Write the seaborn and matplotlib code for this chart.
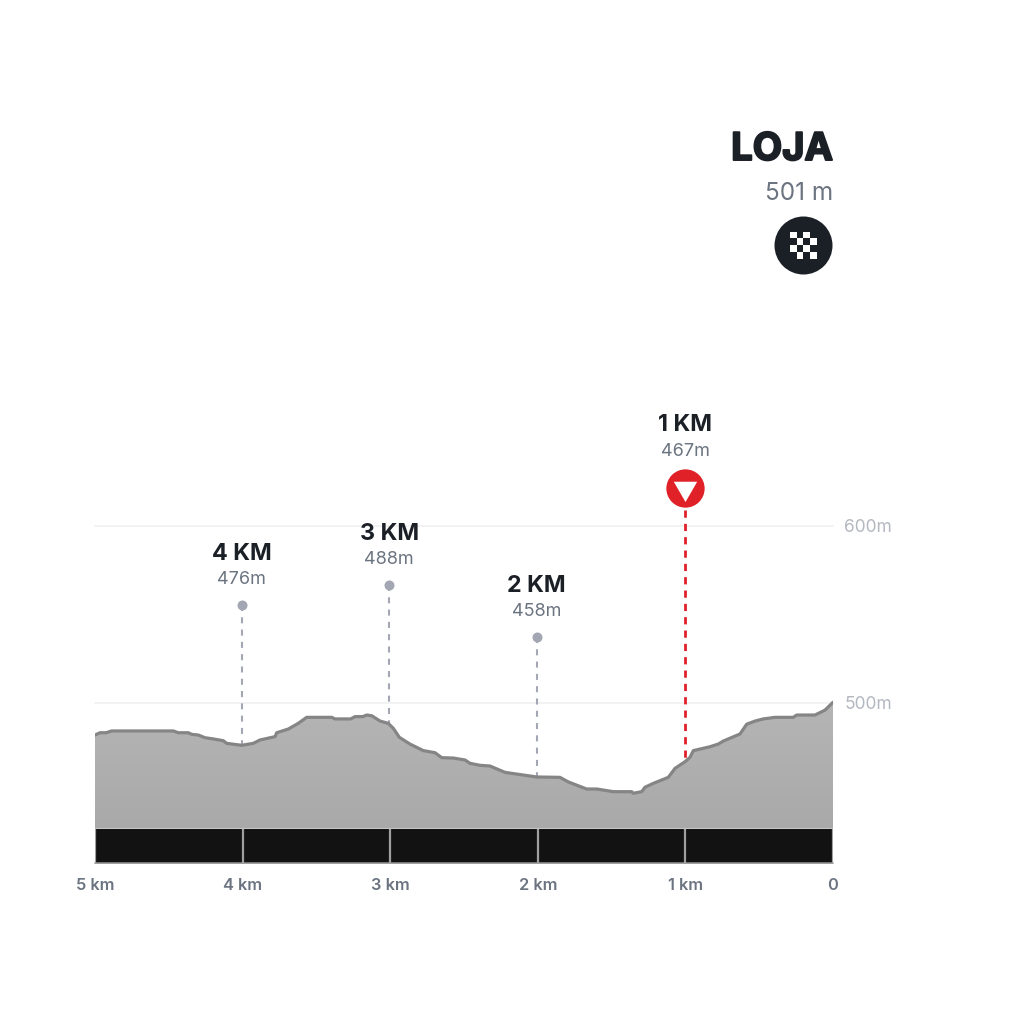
import numpy as np
import pandas as pd
import matplotlib
matplotlib.use("Agg")
import matplotlib.pyplot as plt
import matplotlib.patheffects as pe
import seaborn as sns
from matplotlib.patches import Polygon

# ---- data ----
km_to_go = [5.00, 4.966, 4.925, 4.887, 4.469, 4.436, 4.368, 4.345, 4.30, 4.255, 4.199, 4.131, 4.108,
            4.006, 3.928, 3.882, 3.78, 3.769, 3.69, 3.623, 3.566, 3.396, 3.374, 3.268, 3.238, 3.186,
            3.159, 3.125, 3.069, 3.013, 2.979, 2.938, 2.866, 2.776, 2.696, 2.651, 2.572, 2.493, 2.459,
            2.392, 2.324, 2.222, 2.098, 2.007, 1.85, 1.793, 1.669, 1.60, 1.488, 1.364, 1.353, 1.296,
            1.274, 1.217, 1.116, 1.07, 1.003, 0.969, 0.946, 0.833, 0.777, 0.743, 0.63, 0.585, 0.528,
            0.472, 0.393, 0.269, 0.246, 0.122, 0.054, 0.0]
elevation = [481.9, 483.2, 483.2, 484.2, 484.2, 483.2, 483.2, 482.3, 481.9, 480.4, 479.7, 478.7, 477.2,
             476.1, 477.2, 479.1, 481.0, 483.2, 485.3, 488.5, 491.9, 491.9, 491.0, 491.0, 492.3, 492.3,
             493.2, 492.8, 489.8, 488.5, 485.7, 480.6, 476.8, 473.1, 471.9, 469.1, 468.9, 467.8, 465.9,
             464.8, 464.4, 460.8, 459.3, 458.2, 458.0, 455.4, 451.4, 451.4, 449.9, 449.9, 449.0, 449.9,
             452.4, 454.6, 458.0, 463.1, 466.8, 469.3, 473.1, 475.3, 476.8, 478.5, 482.5, 488.0, 489.8,
             491.0, 491.9, 491.9, 493.2, 493.2, 496.0, 500.4]
x_ticks = [5, 4, 3, 2, 1, 0]
x_tick_labels = ["5 km", "4 km", "3 km", "2 km", "1 km", "0"]
y_ticks = [600, 500]
y_tick_labels = ["600m", "500m"]
marker_km = [4.007, 3.007, 2.007]
marker_labels = ["4 KM", "3 KM", "2 KM"]
marker_values = ["476m", "488m", "458m"]
marker_top = [555.4, 566.7, 537.3]
marker_base = [476.1, 488.5, 458.2]
red_km = 1.003
red_label = "1 KM"
red_value = "467m"
red_top = 621.5
red_line_top = 609.0
red_base = 466.8
finish_name = "LOJA"
finish_value = "501 m"
checker = [[1, 0, 1, 0], [0, 1, 0, 1], [1, 0, 1, 0], [0, 1, 0, 1]]

# ---- style ----
sns.set_theme(style="white")
plt.rcParams["font.family"] = ["Inter", "Lato", "DejaVu Sans"]
INK = "#1b1f26"
SLATE = "#6b7480"
DOT = "#a3a7b4"
GRID = "#f2f2f2"
Y_LAB = "#b3b8c0"
PT = 72 / 100  # points per pixel at dpi 100

W = H = 1024
fig = plt.figure(figsize=(10.24, 10.24), dpi=100, facecolor="white")
ax = fig.add_axes([95 / W, (H - 863) / H, 738 / W, (863 - 526) / H])
y_bottom, y_band = 409.6, 429.0
ax.set_facecolor("none")
for s in ax.spines.values():
    s.set_visible(False)

# grid
for yv in y_ticks:
    ax.axhline(yv, color=GRID, lw=1.4, zorder=0, clip_on=False)

# profile with vertical gradient
df = pd.DataFrame({"km": km_to_go, "ele": elevation})
grad = np.linspace(0, 1, 256).reshape(-1, 1)
img = ax.imshow(grad, extent=(5, 0, y_band, 500), origin="upper", aspect="auto",
                cmap=matplotlib.colors.LinearSegmentedColormap.from_list("g", ["#b5b5b5", "#a9a9a9"]),
                zorder=2)
poly = Polygon(np.column_stack([km_to_go + [0, 5], elevation + [y_band, y_band]]),
               closed=True, transform=ax.transData, facecolor="none", edgecolor="none")
ax.add_patch(poly)
img.set_clip_path(poly)
sns.lineplot(data=df, x="km", y="ele", ax=ax, color="#858585", lw=2.3, estimator=None, sort=False, zorder=3)
ax.set_xlabel("")
ax.set_ylabel("")
ax.set_xlim(5, 0)
ax.set_ylim(y_bottom, 600)

# black band with km separators
ax.axhspan(y_bottom, y_band, color="#121212", lw=0, zorder=2)
ax.axhline(y_bottom, color="#8c8c8c", lw=1.2, zorder=4, clip_on=False)
for k in x_ticks:
    ax.plot([k, k], [y_bottom, y_band], color="#a0a0a0", lw=1.6, zorder=4,
            solid_capstyle="butt")

# km markers
for k, lab, val, top, base in zip(marker_km, marker_labels, marker_values, marker_top, marker_base):
    ax.plot([k, k], [top, base], color=DOT, lw=1.5, dashes=(2.9, 3.0), zorder=1)
    ax.scatter([k], [top], s=52, color=DOT, zorder=5, linewidths=0)
    ax.annotate(val, (k, top), xytext=(0, 25 * PT), textcoords="offset points", ha="center", va="center",
                fontsize=13, color=SLATE, annotation_clip=False)
    ax.annotate(lab, (k, top), xytext=(0, 51 * PT), textcoords="offset points", ha="center", va="center",
                fontsize=16.8, fontweight="bold", color=INK, annotation_clip=False)

# red marker
ax.plot([red_km, red_km], [red_line_top, red_base], color="#e0202a", lw=2.0, dashes=(2.6, 2.2), zorder=1,
        clip_on=False)
ax.scatter([red_km], [red_top], s=760, color="#e02127", zorder=5, linewidths=0, clip_on=False)
ax.scatter([red_km], [red_top], s=380, marker=(3, 0, 180), color="white", zorder=6, linewidths=0, clip_on=False)
ax.annotate(red_value, (red_km, red_top), xytext=(0, 36 * PT), textcoords="offset points", ha="center",
            va="center", fontsize=13, color=SLATE, annotation_clip=False)
ax.annotate(red_label, (red_km, red_top), xytext=(0, 63 * PT), textcoords="offset points", ha="center",
            va="center", fontsize=16.8, fontweight="bold", color=INK, annotation_clip=False)

# ticks
ax.set_xticks(x_ticks)
ax.set_xticklabels(x_tick_labels, fontsize=11.8, fontweight="semibold", color=SLATE)
ax.tick_params(axis="x", length=0, pad=11)
ax.yaxis.tick_right()
ax.set_yticks(y_ticks)
ax.set_yticklabels(y_tick_labels, fontsize=12.5, color=Y_LAB)
ax.tick_params(axis="y", length=0, pad=8)

# finish block
title = fig.text(833 / W, 1 - 150 / H, finish_name, ha="right", va="center", fontsize=27.5, fontweight="bold",
                 color=INK)
title.set_path_effects([pe.withStroke(linewidth=1.4, foreground=INK)])
fig.text(833 / W, 1 - 193 / H, finish_value, ha="right", va="center", fontsize=17.5, color=SLATE)

bad = fig.add_axes([(803.3 - 30) / W, 1 - (245.3 + 30) / H, 60 / W, 60 / H])
bad.set_xlim(-30, 30)
bad.set_ylim(-30, 30)
bad.axis("off")
bad.scatter([0], [0], s=(2 * 29 * PT) ** 2, color=INK, linewidths=0)
chk = fig.add_axes([789.5 / W, 1 - 259 / H, 27 / W, 27.5 / H])
chk.imshow(np.array(checker), cmap=matplotlib.colors.ListedColormap([INK, "white"]), aspect="auto",
           interpolation="nearest")
chk.axis("off")

fig.savefig("out.png", dpi=100, facecolor="white")
